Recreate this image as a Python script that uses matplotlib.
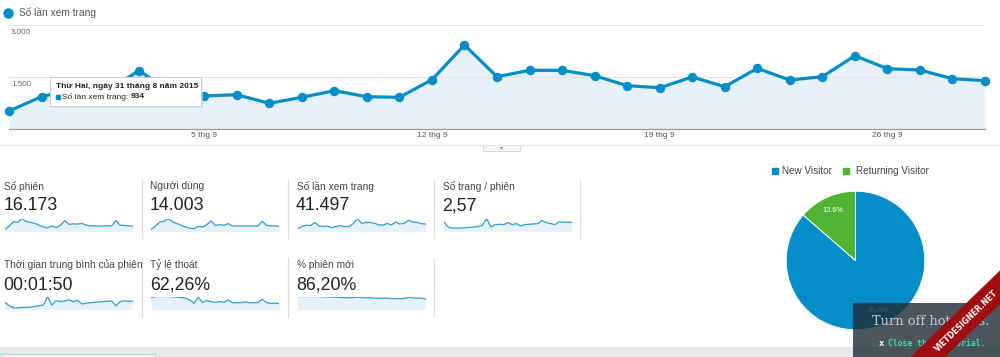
import numpy as np
import matplotlib
matplotlib.use('Agg')
import matplotlib.pyplot as plt
from matplotlib.patches import Rectangle, Polygon
from matplotlib.lines import Line2D

plt.rcParams['font.family'] = ['Liberation Sans', 'DejaVu Sans']

# --- data ---
# Số lần xem trang theo ngày, 30/8 -> 29/9/2015
pageviews = [519, 934, 1150, 1100, 1683, 1050, 952, 990, 741, 914, 1105, 932, 914,
             1422, 2423, 1509, 1693, 1693, 1538, 1249, 1191, 1500, 1220, 1750, 1413,
             1509, 2115, 1740, 1702, 1451, 1394]
tick_idx = [6, 13, 20, 27]
tick_labels = ['5 thg 9', '12 thg 9', '19 thg 9', '26 thg 9']
y_ticks = [1500, 3000]
y_tick_labels = ['1.500', '3.000']

spark_sessions = [161, 429, 751, 697, 992, 751, 697, 617, 483, 349, 268, 429, 295, 483, 831,
                  536, 590, 563, 617, 483, 429, 429, 402, 429, 429, 429, 831, 483, 456, 429, 402]
spark_users = [144, 384, 672, 720, 912, 672, 552, 432, 312, 240, 192, 360, 312, 480, 744,
               432, 480, 432, 552, 384, 384, 384, 384, 384, 384, 384, 720, 432, 408, 384, 360]
spark_pages = [3.53, 1.64, 1.26, 1.26, 1.26, 1.39, 1.51, 1.64, 1.89, 2.27, 4.79, 1.64, 2.52,
               2.65, 2.52, 3.28, 2.52, 2.90, 2.02, 2.52, 2.65, 2.77, 2.90, 4.03, 3.28, 2.90,
               2.52, 3.53, 3.40, 3.40, 3.40]
spark_duration = [125, 65, 30, 30, 36, 36, 42, 54, 65, 77, 226, 77, 155, 137, 149, 167, 137,
                  161, 95, 107, 119, 125, 131, 137, 143, 149, 65, 137, 149, 143, 143]
spark_bounce = [82.6, 89.7, 89.7, 89.7, 89.7, 87.3, 85.0, 82.6, 77.9, 66.1, 42.5, 85.0, 49.6,
                61.4, 54.3, 49.6, 54.3, 49.6, 66.1, 47.2, 47.2, 47.2, 51.9, 47.2, 47.2, 47.2,
                70.8, 47.2, 42.5, 42.5, 42.5]
spark_new = [94.3, 94.3, 94.3, 94.3, 94.3, 94.3, 91.8, 91.8, 89.3, 89.3, 86.8, 86.8, 84.4,
             86.8, 89.3, 86.8, 84.4, 84.4, 81.9, 81.9, 81.9, 81.9, 79.4, 79.4, 79.4, 79.4,
             89.3, 84.4, 81.9, 81.9, 76.9]

tile_labels = ['Số phiên', 'Người dùng', 'Số lần xem trang', 'Số trang / phiên',
               'Thời gian trung bình của phiên', 'Tỷ lệ thoát', '% phiên mới']
tile_values = ['16.173', '14.003', '41.497', '2,57', '00:01:50', '62,26%', '86,20%']
tile_sparks = [spark_sessions, spark_users, pageviews, spark_pages,
               spark_duration, spark_bounce, spark_new]

pie_labels = ['New Visitor', 'Returning Visitor']
pie_values = [86.4, 13.6]

BLUE = '#058DC7'
GREEN = '#50B432'
W, H = 1000, 357


def fx(x):
    return x / W


def fy(y):
    return 1 - y / H


def box(x0, y0, x1, y1):
    return [x0 / W, 1 - y1 / H, (x1 - x0) / W, (y1 - y0) / H]


fig = plt.figure(figsize=(10, 3.57), dpi=100)

# legend of main chart
fig.add_artist(Line2D([fx(8)], [fy(13)], marker='o', ms=6.5, color=BLUE,
                      transform=fig.transFigure))
fig.text(fx(19), fy(13), 'Số lần xem trang', fontsize=7.3, color='#555',
         ha='left', va='center')

# main line chart
ax = fig.add_axes(box(9, 25, 985, 129))
x = np.arange(len(pageviews))
ax.fill_between(x, pageviews, color='#E6F1F9', lw=0, zorder=1)
for v, lab in zip(y_ticks, y_tick_labels):
    ax.axhline(v, color='#e4e4e4', lw=0.8, zorder=1.5)
    ax.annotate(lab, xy=(0, v), xycoords=('axes fraction', 'data'),
                xytext=(1.5, -5.2), textcoords='offset points',
                fontsize=5.8, color='#666', ha='left', va='center')
ax.plot(x, pageviews, color=BLUE, lw=2.3, marker='o', ms=5.8, zorder=3, clip_on=False)
ax.set_xlim(0, 30)
ax.set_ylim(0, 3000)
for s in ['top', 'left', 'right']:
    ax.spines[s].set_visible(False)
ax.spines['bottom'].set_color('#999')
ax.spines['bottom'].set_linewidth(0.9)
ax.set_yticks([])
ax.set_xticks(tick_idx)
ax.set_xticklabels(tick_labels)
ax.tick_params(axis='x', length=0, pad=2.5, labelsize=6, labelcolor='#555')

# tooltip
fig.add_artist(Rectangle((fx(51.5), fy(107.5)), 151 / W, 29 / H, transform=fig.transFigure,
                         facecolor='#d8d8d8', edgecolor='none', alpha=0.6, zorder=4))
fig.add_artist(Rectangle((fx(50), fy(106)), 151 / W, 29 / H, transform=fig.transFigure,
                         facecolor='white', edgecolor='#cccccc', lw=0.7, zorder=4))
fig.text(fx(56), fy(86), 'Thứ Hai, ngày 31 tháng 8 năm 2015', fontsize=6, weight='bold',
         color='#222', ha='left', va='center', zorder=5)
fig.add_artist(Line2D([fx(58)], [fy(97)], marker='s', ms=2.2, color=BLUE,
                      transform=fig.transFigure, zorder=5))
fig.text(fx(62), fy(97), 'Số lần xem trang:', fontsize=6, color='#222',
         ha='left', va='center', zorder=5)
fig.text(fx(130.5), fy(97), '934', fontsize=6, weight='bold', color='#222',
         ha='left', va='center', zorder=5)

# line under chart and small toggle button
fig.add_artist(Line2D([0, 1], [fy(145), fy(145)], color='#e3e3e3', lw=0.9,
                      transform=fig.transFigure))
fig.add_artist(Rectangle((fx(483), fy(151)), 37 / W, 6 / H, transform=fig.transFigure,
                         facecolor='#f6f6f6', edgecolor='#d0d0d0', lw=0.6))
fig.text(fx(501.5), fy(148), '▾', fontsize=4, color='#777', ha='center', va='center',
         family='DejaVu Sans')

# metric tiles
for i, (lab, val, sp) in enumerate(zip(tile_labels, tile_values, tile_sparks)):
    row, col = divmod(i, 4)
    x0 = 146.3 * col
    if row == 0:
        ly, vy, st, sb = 186, 206, 218.5, 231.5
    else:
        ly, vy, st, sb = 264.5, 285, 296.5, 309.5
    fig.text(fx(x0 + 4), fy(ly), lab, fontsize=7.3, color='#444', ha='left', va='center')
    fig.text(fx(x0 + 3.5), fy(vy), val, fontsize=12.8, color='#222', ha='left', va='center')
    sa = fig.add_axes(box(x0 + 5, st, x0 + 133, sb))
    sx = np.arange(len(sp))
    sa.fill_between(sx, sp, color='#E6F1F9', lw=0)
    sa.plot(sx, sp, color='#3a9fd6', lw=0.95)
    sa.set_xlim(0, len(sp) - 1)
    sa.set_ylim(0, max(sp))
    sa.axis('off')

# separators between tiles
for xs in [142, 288, 434, 580]:
    fig.add_artist(Line2D([fx(xs), fx(xs)], [fy(180), fy(238)], color='#dddddd', lw=0.9,
                          transform=fig.transFigure))
for xs in [142, 288, 434]:
    fig.add_artist(Line2D([fx(xs), fx(xs)], [fy(258), fy(317)], color='#dddddd', lw=0.9,
                          transform=fig.transFigure))

# pie chart
pa = fig.add_axes(box(785.5, 190.5, 925.5, 330.5))
wedges, texts, autotexts = pa.pie(pie_values, colors=[BLUE, GREEN], startangle=90,
                                  counterclock=False, autopct='%.1f%%', pctdistance=0.79,
                                  wedgeprops=dict(edgecolor='white', linewidth=0.7),
                                  textprops=dict(color='white', fontsize=5.3))
pa.set_xlim(-1.01, 1.01)
pa.set_ylim(-1.01, 1.01)
pa.set_aspect('equal')

# pie legend
for lx, tx, lab, c in [(774.5, 782.5, pie_labels[0], BLUE), (845.5, 855.5, pie_labels[1], GREEN)]:
    fig.add_artist(Line2D([fx(lx)], [fy(171)], marker='s', ms=5, color=c,
                          transform=fig.transFigure))
    fig.text(fx(tx), fy(171), lab, fontsize=7.1, color='#444', ha='left', va='center')

# page bottom band
fig.add_artist(Rectangle((0, 0), 1, 10 / H, transform=fig.transFigure,
                         facecolor='#e8eaea', edgecolor='none', zorder=2))
fig.add_artist(Rectangle((0, 0), 155 / W, 3.5 / H, transform=fig.transFigure,
                         facecolor='white', edgecolor='#a6e4d8', lw=1, zorder=2.1))

# tutorial overlay
fig.add_artist(Rectangle((fx(853), 0), 147 / W, 54 / H, transform=fig.transFigure,
                         facecolor='#1e2d33', edgecolor='none', alpha=0.8, zorder=6))
fig.text(fx(872), fy(321.5), 'Turn off hotspots.', fontsize=9.4, color='#c9cdcd',
         family='DejaVu Serif', ha='left', va='center', zorder=7)
fig.text(fx(879), fy(343.5), 'x', fontsize=6.5, color='white', weight='bold',
         family='DejaVu Sans Mono', ha='left', va='center', zorder=7)
fig.text(fx(888), fy(343.5), 'Close this tutorial.', fontsize=5.8, color='#3fd9b8',
         weight='bold', family='DejaVu Sans Mono', ha='left', va='center', zorder=7)

# watermark ribbon
rib = [(866, 400), (1046, 226), (1063, 243), (883, 417)]
fig.add_artist(Polygon([(fx(a), fy(b)) for a, b in rib], closed=True,
                       transform=fig.transFigure, facecolor='#a00d10', edgecolor='none',
                       zorder=8))
fig.text(fx(967), fy(321), 'VIETDESIGNER.NET', fontsize=5.6, color='white', weight='bold',
         family='DejaVu Sans', rotation=44, ha='center', va='center',
         rotation_mode='anchor', zorder=9)

fig.savefig('out.png', dpi=100)
